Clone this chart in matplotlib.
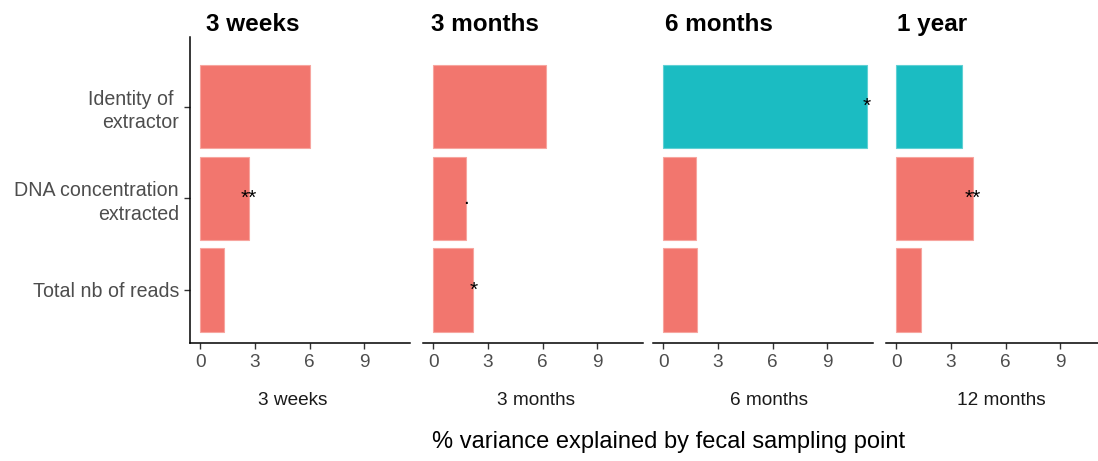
import matplotlib.pyplot as plt

plt.rcParams["font.family"] = ["Liberation Sans", "DejaVu Sans"]

# data
periods = ["3 weeks", "3 months", "6 months", "1 year"]
period_labels = ["3 weeks", "3 months", "6 months", "12 months"]
factors = ["Identity of \nextractor", "DNA concentration\nextracted", "Total nb of reads"]

identity = [6.0, 6.2, 11.15, 3.6]
dna_conc = [2.65, 1.8, 1.82, 4.2]
total_reads = [1.3, 2.2, 1.85, 1.35]

identity_sig = ["", "", "*", ""]
dna_sig = ["**", ".", "", "**"]
reads_sig = ["", "*", "", ""]

identity_group = ["A", "A", "B", "B"]
dna_group = ["A", "A", "A", "A"]
reads_group = ["A", "A", "A", "A"]

colors = {"A": "#F2766E", "B": "#1BBCC2"}
edges = {"A": "#F7A59F", "B": "#5FD0D4"}

W, H = 1098, 461
fig = plt.figure(figsize=(W / 100, H / 100), dpi=100)

panel_left = [190, 423, 653, 886]
title_x = [206, 431, 665, 897]
label_x = [293, 536, 769, 1001]
panel_w = 220
ax_bottom, ax_top = 343, 37

ypos = [3, 2, 1]
axes = []
for i, period in enumerate(periods):
    ax = fig.add_axes([panel_left[i] / W, (H - ax_bottom) / H,
                       panel_w / W, (ax_bottom - ax_top) / H])
    vals = [identity[i], dna_conc[i], total_reads[i]]
    grps = [identity_group[i], dna_group[i], reads_group[i]]
    sigs = [identity_sig[i], dna_sig[i], reads_sig[i]]
    ax.barh(ypos, vals, height=0.91,
            color=[colors[g] for g in grps],
            edgecolor=[edges[g] for g in grps], linewidth=0.8)
    for y, v, s in zip(ypos, vals, sigs):
        if s:
            ax.text(v, y, s, ha="center", va="center", fontsize=15, color="black")

    ax.set_xlim(-0.56, 11.5)
    ax.set_ylim(0.42, 3.76)
    ax.set_xticks([0, 3, 6, 9])
    ax.tick_params(axis="x", length=4, width=1, color="#333333",
                   labelsize=13.7, labelcolor="#4D4D4D", pad=4)
    for side in ["top", "right"]:
        ax.spines[side].set_visible(False)
    ax.spines["bottom"].set_linewidth(1.1)
    if i == 0:
        ax.set_yticks(ypos)
        ax.set_yticklabels(factors, linespacing=1.3)
        ax.tick_params(axis="y", length=4, width=1, color="#333333",
                       labelsize=14.1, labelcolor="#4D4D4D", pad=4)
        ax.spines["left"].set_linewidth(1.1)
    else:
        ax.set_yticks([])
        ax.spines["left"].set_visible(False)

    fig.text(title_x[i] / W, (H - 30.7) / H, period, fontsize=17.5,
             fontweight="bold", ha="left", va="baseline")
    fig.text(label_x[i] / W, (H - 405) / H, period_labels[i],
             fontsize=13.7, color="#1A1A1A", ha="center", va="baseline")
    axes.append(ax)

fig.text(669 / W, (H - 448.3) / H, "% variance explained by fecal sampling point",
         fontsize=17, ha="center", va="baseline")

fig.savefig("out.png", dpi=100)
